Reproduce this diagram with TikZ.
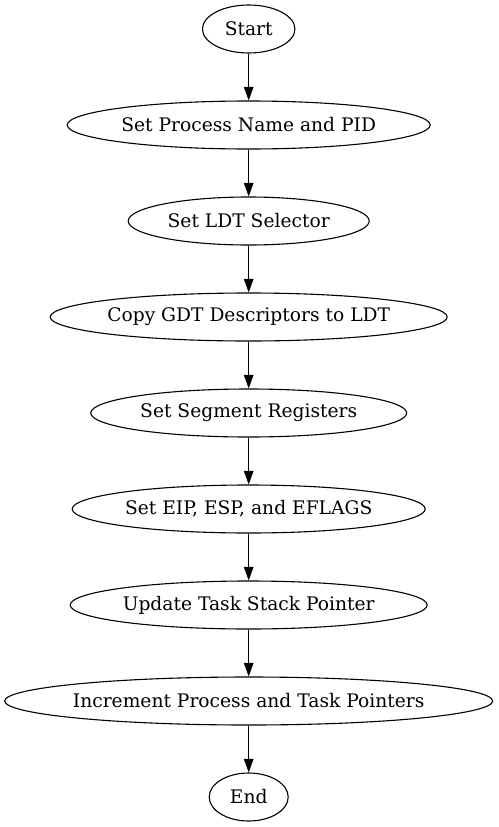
\documentclass[tikz,border=0pt]{standalone}
\usepackage{fontspec}
\setmainfont{DejaVu Serif}
\usetikzlibrary{shapes.geometric,arrows.meta}
\tikzset{
  flownode/.style={draw, ellipse, line width=1.1pt, inner sep=0pt, minimum height=48pt,
    font=\fontsize{18.67}{22}\selectfont},
  flowarrow/.style={line width=1.1pt, -{Triangle[length=13.5pt,width=9.5pt]}}
}
\newcommand{\lbl}[1]{\makebox[0pt]{#1}}
\begin{document}
\begin{tikzpicture}[x=1pt,y=-1pt]
\useasboundingbox (0,0) rectangle (498,827);
\fill[white] (0,0) rectangle (498,827);
\node[flownode, minimum width=92.5pt] (start) at (248.7,29) {\lbl{Start}};
\node[flownode, minimum width=363pt] (pid) at (248.7,125) {\lbl{Set Process Name and PID}};
\node[flownode, minimum width=241pt] (ldt) at (248.7,221) {\lbl{Set LDT Selector}};
\node[flownode, minimum width=397pt] (gdt) at (248.7,317) {\lbl{Copy GDT Descriptors to LDT}};
\node[flownode, minimum width=316pt] (seg) at (248.7,413) {\lbl{Set Segment Registers}};
\node[flownode, minimum width=353pt] (eip) at (248.7,509) {\lbl{Set EIP, ESP, and EFLAGS}};
\node[flownode, minimum width=357pt] (tsp) at (248.7,605) {\lbl{Update Task Stack Pointer}};
\node[flownode, minimum width=488pt] (inc) at (248.7,701) {\lbl{Increment Process and Task Pointers}};
\node[flownode, minimum width=79pt] (end) at (248.7,797) {\lbl{End}};
\foreach \a/\b in {start/pid,pid/ldt,ldt/gdt,gdt/seg,seg/eip,eip/tsp,tsp/inc,inc/end}
  \draw[flowarrow] (\a.south) -- (\b.north);
\end{tikzpicture}
\end{document}
